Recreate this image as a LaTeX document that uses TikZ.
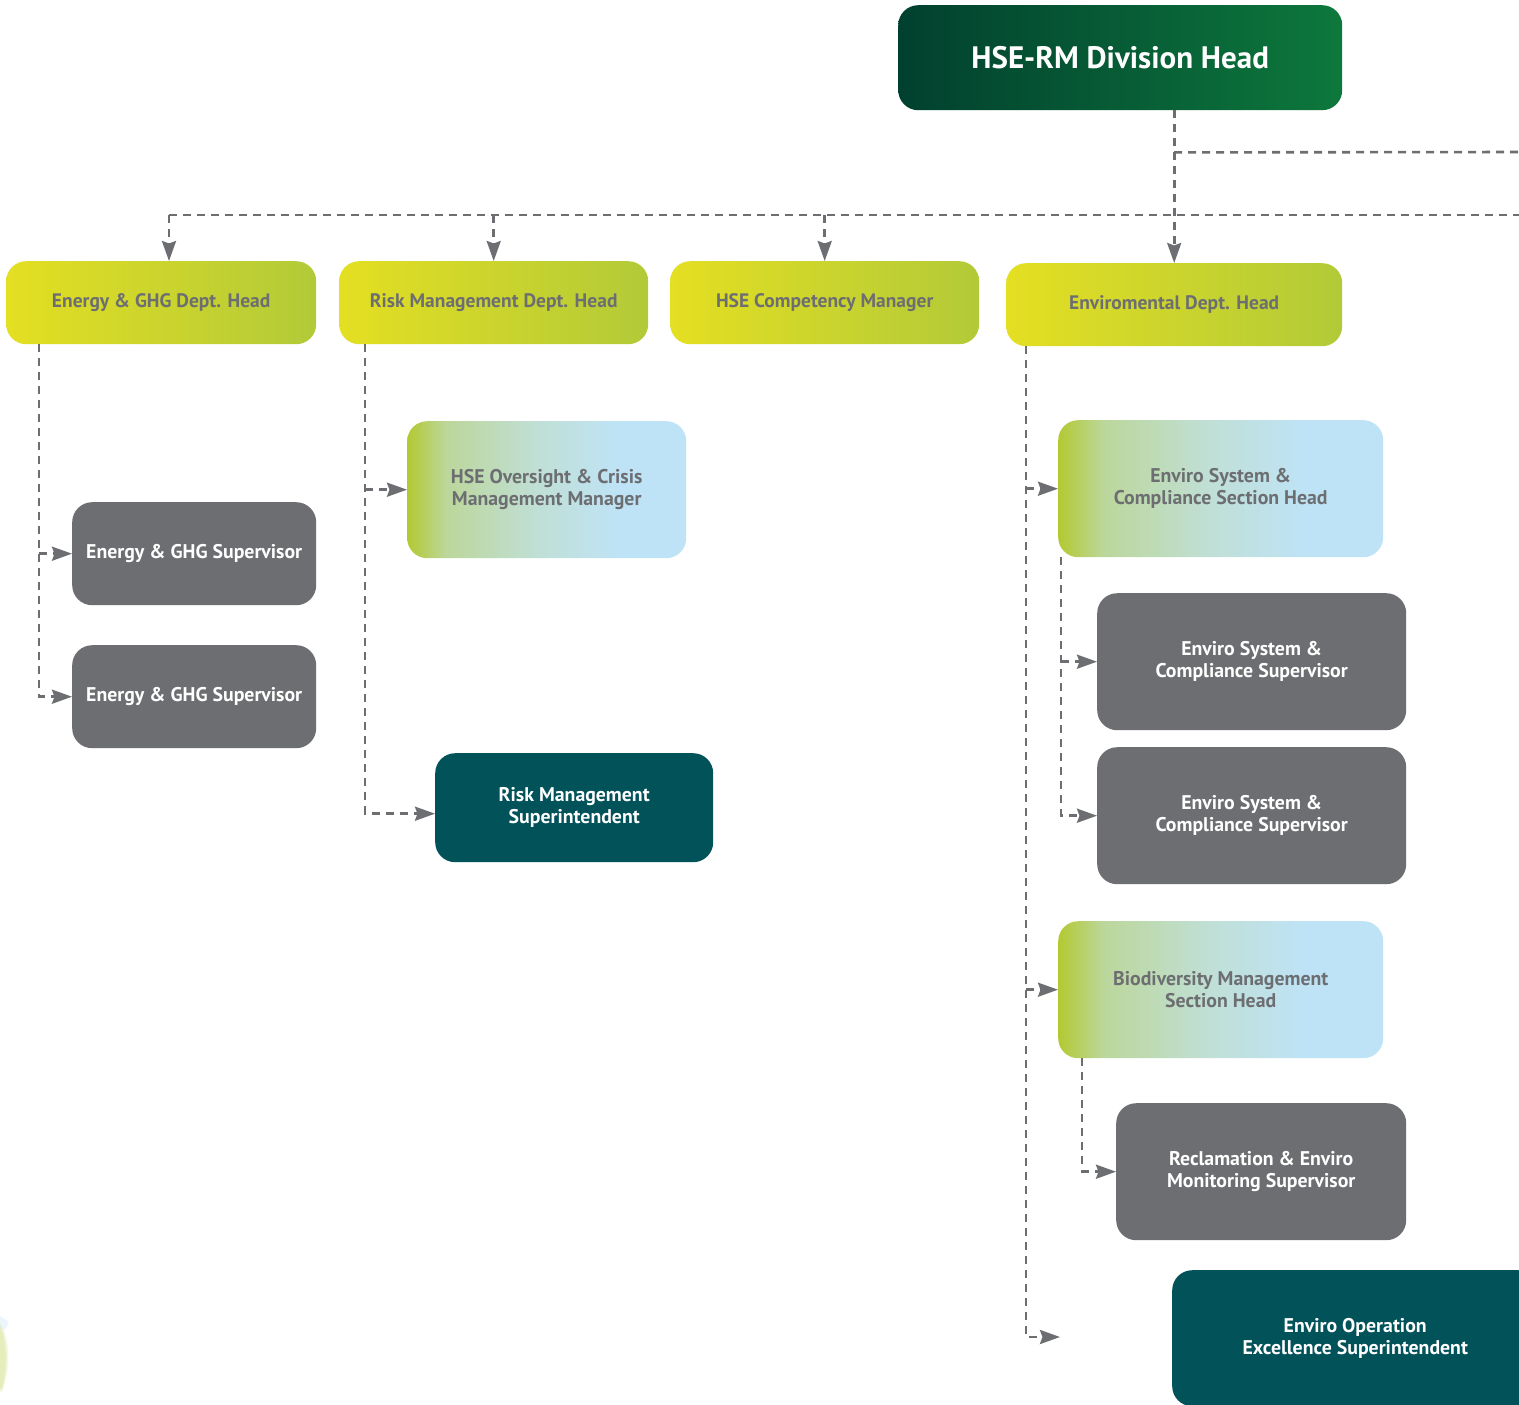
\documentclass[tikz,border=0pt]{standalone}
\usepackage{fontspec}
\setmainfont{PT Sans}
\usetikzlibrary{arrows.meta,calc}

\definecolor{inkgrey}{HTML}{6D6E71}
\definecolor{tealbox}{HTML}{02525A}
\definecolor{greyA}{HTML}{6D6E71}
\definecolor{dgLeft}{HTML}{01402F}
\definecolor{dgRight}{HTML}{0D783C}
\definecolor{ylLeft}{HTML}{E4DF22}
\definecolor{ylRight}{HTML}{B2CA38}
\definecolor{gbA}{HTML}{B3C932}
\definecolor{gbB}{HTML}{BCD79B}
\definecolor{gbC}{HTML}{C0DFD5}
\definecolor{gbD}{HTML}{BEE3F6}

% the shaded path spans 25bp..75bp of this shading
\pgfdeclarehorizontalshading{greenblue}{100bp}{%
  color(0bp)=(gbA); color(25bp)=(gbA); color(32bp)=(gbB);
  color(48bp)=(gbC); color(63bp)=(gbD); color(100bp)=(gbD)}

\tikzset{
  box/.style={rounded corners=20pt, align=center, inner sep=0pt,
    anchor=north west, font=\bfseries},
  headbox/.style={box, left color=dgLeft, right color=dgRight,
    text=white, font=\fontsize{31}{36}\selectfont\bfseries},
  deptbox/.style={box, left color=ylLeft, right color=ylRight,
    text=inkgrey, font=\fontsize{19.5}{22}\selectfont\bfseries},
  sectbox/.style={box, shading=greenblue,
    text=inkgrey, font=\fontsize{19.8}{22}\selectfont\bfseries},
  supbox/.style={box, fill=greyA,
    text=white, font=\fontsize{19.8}{22}\selectfont\bfseries},
  supitbox/.style={box, fill=tealbox,
    text=white, font=\fontsize{19.8}{22}\selectfont\bfseries},
  conn/.style={draw=inkgrey, line width=2.6pt, dash pattern=on 8pt off 6pt},
  tip/.style={conn, -{Stealth[length=20pt,width=14pt,inset=2.5pt]}},
}

\begin{document}
\begin{tikzpicture}[x=1pt,y=-1pt]
\useasboundingbox (0,0) rectangle (1519,1405);
\clip (0,0) rectangle (1519,1405);
\fill[white] (0,0) rectangle (1519,1405);

% soft leaf fragment at the lower left edge
\foreach \o in {0,2,4}{
  \fill[gbA, opacity=0.12] (-2,1320+\o) .. controls (10-\o,1335) and (12-\o,1365) .. (2,1392-\o) -- (-2,1392-\o) -- cycle;
}
\fill[gbD, opacity=0.3] (0,1316) -- (9,1322) -- (5,1330) -- (0,1328) -- cycle;

% top level
\node[headbox, minimum width=444pt, minimum height=105pt] (div) at (898,5) {HSE-RM Division Head};

% department level
\node[deptbox, minimum width=310pt, minimum height=83pt] (eng) at (6,261) {Energy \& GHG Dept. Head};
\node[deptbox, minimum width=309pt, minimum height=83pt] (risk) at (339,261) {Risk Management Dept. Head};
\node[deptbox, minimum width=309pt, minimum height=83pt] (comp) at (670,261) {HSE Competency Manager};
\node[deptbox, minimum width=336pt, minimum height=83pt] (env) at (1006,263) {Enviromental Dept. Head};

% energy branch
\node[supbox, minimum width=244pt, minimum height=103pt] (engA) at (72,502) {Energy \& GHG Supervisor};
\node[supbox, minimum width=244pt, minimum height=103pt] (engB) at (72,645) {Energy \& GHG Supervisor};

% risk branch
\node[sectbox, minimum width=279pt, minimum height=137pt] (hso) at (407,421) {HSE Oversight \& Crisis\\Management Manager};
\node[supitbox, minimum width=278pt, minimum height=109pt] (rms) at (435,753) {Risk Management\\Superintendent};

% environmental branch
\node[sectbox, minimum width=325pt, minimum height=137pt] (esh) at (1058,420) {Enviro System \&\\Compliance Section Head};
\node[supbox, minimum width=309pt, minimum height=137pt] (escA) at (1097,593) {Enviro System \&\\Compliance Supervisor};
\node[supbox, minimum width=309pt, minimum height=137pt] (escB) at (1097,747) {Enviro System \&\\Compliance Supervisor};
\node[sectbox, minimum width=325pt, minimum height=137pt] (bio) at (1058,921) {Biodiversity Management\\Section Head};
\node[supbox, minimum width=290pt, minimum height=137pt] (rec) at (1116,1103) {Reclamation \& Enviro\\Monitoring Supervisor};
\node[supitbox, minimum width=366pt, minimum height=136pt] (eos) at (1172,1270) {Enviro Operation\\Excellence Superintendent};

% connectors from the division head
\coordinate (tap) at ($(div.south -| env.north)+(0,42)$);
\coordinate (tapEnd) at (1530,152);
\coordinate (busL) at (169,215);
\coordinate (busR) at (1530,215);
\draw[conn] (tap) -- (tapEnd);
\draw[conn] (busL) -- (busR);
\draw[tip] (div.south -| env.north) -- (env.north);
\draw[tip] (busL) -- (busL |- eng.north);
\draw[tip] (risk.north |- busL) -- (risk.north);
\draw[tip] (comp.north |- busL) -- (comp.north);

% energy department
\coordinate (tE) at ($(eng.south west)+(33,0)$);
\draw[tip] (tE) |- (engB.west);
\draw[tip] (engA.west -| tE) -- (engA.west);

% risk department
\coordinate (tR) at ($(risk.south west)+(26,0)$);
\draw[tip] (tR) |- ($(rms.west)+(0,6)$);
\draw[tip] (hso.west -| tR) -- (hso.west);

% environmental department
\coordinate (tV) at ($(env.south west)+(20,0)$);
\coordinate (eosIn) at (1060,1337);
\draw[tip] (tV) |- (eosIn);
\draw[tip] (esh.west -| tV) -- (esh.west);
\draw[tip] (bio.west -| tV) -- (bio.west);

% enviro system section
\coordinate (tS) at ($(esh.south west)+(3,0)$);
\draw[tip] (tS) |- (escB.west);
\draw[tip] (escA.west -| tS) -- (escA.west);

% biodiversity section
\coordinate (tB) at ($(bio.south west)+(24,0)$);
\draw[tip] (tB) |- (rec.west);
\end{tikzpicture}
\end{document}
